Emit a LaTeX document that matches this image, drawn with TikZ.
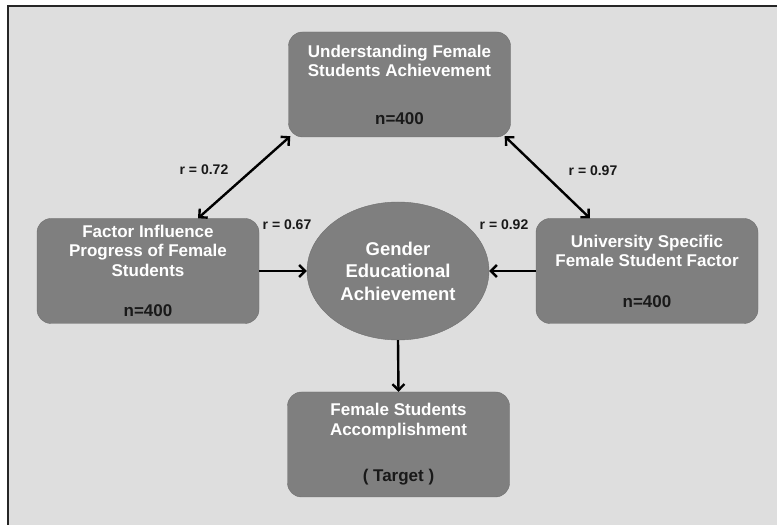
\documentclass[tikz,border=0pt]{standalone}
\usepackage{fontspec}
\setmainfont{Liberation Sans}
\usetikzlibrary{arrows.meta,positioning,shapes.geometric,calc}
\definecolor{bggray}{HTML}{DEDEDE}
\definecolor{boxgray}{HTML}{7F7F7F}
\definecolor{edgegray}{HTML}{6F6F6F}

\begin{document}
\begin{tikzpicture}[x=1pt,y=1pt,
      box/.style={rectangle,rounded corners=14pt,draw=edgegray,fill=boxgray,minimum width=222pt,minimum height=105pt,inner sep=0pt,align=center,text=white,font=\bfseries\fontsize{17}{19.5}\selectfont},
      oval/.style={ellipse,draw=edgegray,fill=boxgray,minimum width=182pt,minimum height=138pt,inner sep=0pt,align=center,text=white,font=\bfseries\fontsize{18.5}{22.5}\selectfont},
      rlab/.style={font=\bfseries\fontsize{14}{16}\selectfont,text=black!90},
      arr/.style={-{Straight Barb[length=6pt,width=12pt]},line width=2.4pt},
      dbl/.style={{Straight Barb[length=6pt,width=12pt]}-{Straight Barb[length=6pt,width=12pt]},line width=2.4pt}
    ]
      % frame
      \useasboundingbox (0,0) rectangle (777,525);
      \fill[white] (0,0) rectangle (777,525);
      \fill[bggray] (8,0) rectangle (777,519);
      \draw[line width=1.5pt,black!85] (8,0) -- (8,519) -- (777,519);

      % boxes
      \node[box] (under) at (399.5,440.5) {Understanding Female\\Students Achievement\\[28pt]\textcolor{black!90}{n=400}};
      \node[box] (factor) at (148,254) {Factor Influence\\Progress of Female\\Students\\[21pt]\textcolor{black!90}{n=400}};
      \node[box] (univ) at (647,254) {University Specific\\Female Student Factor\\[21pt]\textcolor{black!90}{n=400}};
      \node[box] (target) at (398.5,80.5) {Female Students\\Accomplishment\\[27pt]\textcolor{black!90}{( Target )}};
      \node[oval] (gea) at (398,254) {Gender\\Educational\\Achievement};

      % correlations
      \draw[dbl] ($(factor.north)+(50,0)$) -- ($(under.south west)+(2,1)$);
      \draw[dbl] ($(under.south east)+(-6,1)$) -- ($(univ.north)+(-57,0)$);
      \draw[arr] (factor.east) -- (gea.west);
      \draw[arr] (univ.west) -- (gea.east);
      \draw[arr] (gea.south) -- (target.north);

      % labels
      \node[rlab] (r72) at (204,355) {r = 0.72};
      \node[rlab] (r97) at (593,354) {r = 0.97};
      \node[rlab] (r67) at (287,300) {r = 0.67};
      \node[rlab] (r92) at (504,300) {r = 0.92};
    \end{tikzpicture}
\end{document}
